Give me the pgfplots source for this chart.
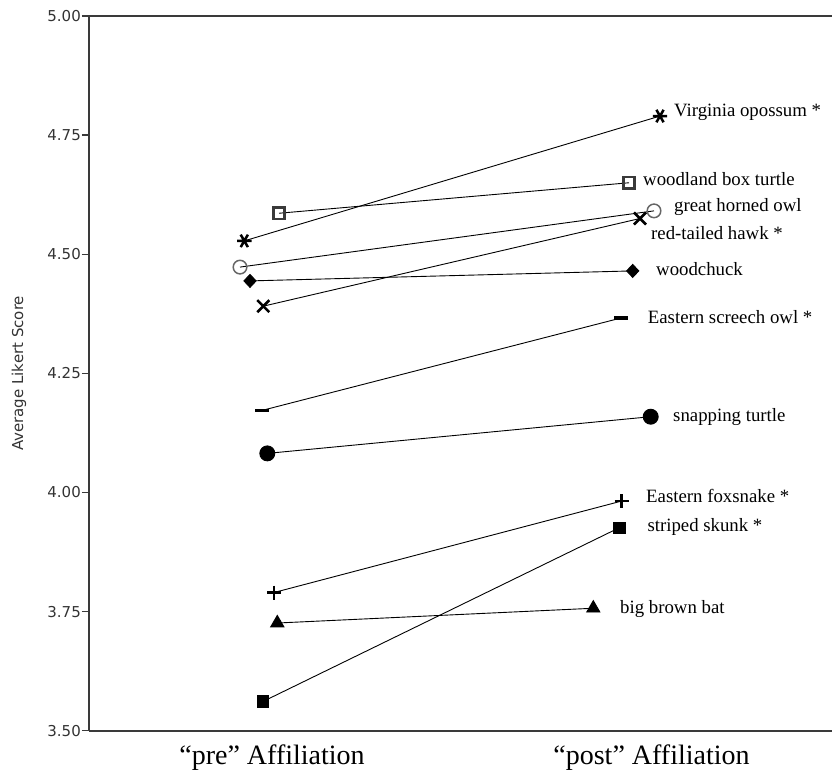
\documentclass[border=0pt]{standalone}
\usepackage{fontspec}
\setmainfont{Liberation Serif}
\newfontfamily\sansf{DejaVu Sans}
\usepackage{pgfplots}
\pgfplotsset{compat=1.18}
\definecolor{axgray}{HTML}{3A3A3A}
\definecolor{txtgray}{HTML}{333333}
\begin{document}
\begin{tikzpicture}
\begin{axis}[
  scale only axis,
  width=743pt, height=714.7pt,
  xmin=89, xmax=832,
  ymin=3.5, ymax=5.0,
  axis x line*=box, axis y line*=left,
  axis line style={-, draw=axgray, line width=1.6pt},
  y axis line style={-},
  clip=false,
  xtick={272,651.5},
  xticklabels={“pre” Affiliation, “post” Affiliation},
  x tick style={draw=none},
  xticklabel style={font=\fontsize{28}{31}\selectfont, anchor=base, yshift=-27pt},
  ytick={3.5,3.75,4.0,4.25,4.5,4.75,5.0},
  y tick style={draw=axgray, line width=1.3pt},
  tick align=outside,
  major tick length=7pt,
  yticklabel style={font=\sansf\fontsize{15}{17}\selectfont, text=txtgray, inner sep=1pt},
  /pgf/number format/assume math mode=true,
  /pgf/number format/fixed,
  /pgf/number format/precision=2,
  /pgf/number format/fixed zerofill,
  ylabel={Average Likert Score},
  ylabel style={font=\sansf\fontsize{15}{17}\selectfont, text=txtgray, at={(axis description cs:-0.0942,0.5)}, anchor=center, rotate=0},
  every axis plot/.append style={draw=black, line width=0.9pt},
]
% Virginia opossum
\addplot[mark=asterisk, mark size=7.2pt, mark options={line width=2.5pt, rotate=90}] coordinates {(244.3,4.528) (660,4.790)};
% woodland box turtle
\addplot[mark=square, mark size=5.6pt, mark options={draw=axgray, line width=2.6pt, fill=white}] coordinates {(279,4.586) (629,4.650)};
% great horned owl
\addplot[mark=o, mark size=6.8pt, mark options={draw=black!60, line width=1.5pt, fill=white}] coordinates {(240,4.473) (654,4.591)};
% red-tailed hawk
\addplot[mark=x, mark size=8.5pt, mark options={line width=2.6pt}] coordinates {(263.3,4.391) (640,4.575)};
% woodchuck
\addplot[mark=diamond*, mark size=6.5pt, mark options={fill=black, xscale=1.25}] coordinates {(250,4.444) (632.7,4.465)};
% Eastern screech owl
\addplot[mark=-, mark size=6.8pt, mark options={line width=3.2pt}] coordinates {(261.7,4.172) (620.7,4.366)};
% snapping turtle
\addplot[mark=*, mark size=7.5pt, mark options={fill=black}] coordinates {(267.3,4.082) (650.7,4.159)};
% Eastern foxsnake
\addplot[mark=+, mark size=7pt, mark options={line width=2.6pt}] coordinates {(274,3.790) (621.7,3.982)};
% striped skunk
\addplot[mark=square*, mark size=5.7pt, mark options={fill=black}] coordinates {(262.7,3.561) (619.3,3.926)};
% big brown bat
\addplot[mark=triangle*, mark size=7.6pt, mark options={fill=black}] coordinates {(277.3,3.726) (593.3,3.757)};

\begin{scope}[every node/.style={anchor=west, inner sep=0pt, font=\fontsize{18.8}{21}\selectfont}]
\node at (axis cs:674,4.797) {Virginia opossum *};
\node at (axis cs:643,4.658) {woodland box turtle};
\node at (axis cs:674,4.600) {great horned owl};
\node at (axis cs:651,4.545) {red-tailed hawk *};
\node at (axis cs:656,4.469) {woodchuck};
\node at (axis cs:647.7,4.369) {Eastern screech owl *};
\node at (axis cs:673,4.159) {snapping turtle};
\node at (axis cs:646,3.993) {Eastern foxsnake *};
\node at (axis cs:647.3,3.928) {striped skunk *};
\node at (axis cs:620,3.755) {big brown bat};
\end{scope}
\end{axis}
\pgfresetboundingbox
\path[use as bounding box] ([shift={(-89pt,-45.3pt)}]current axis.south west) rectangle ([shift={(0pt,16pt)}]current axis.north east);
\end{tikzpicture}
\end{document}
